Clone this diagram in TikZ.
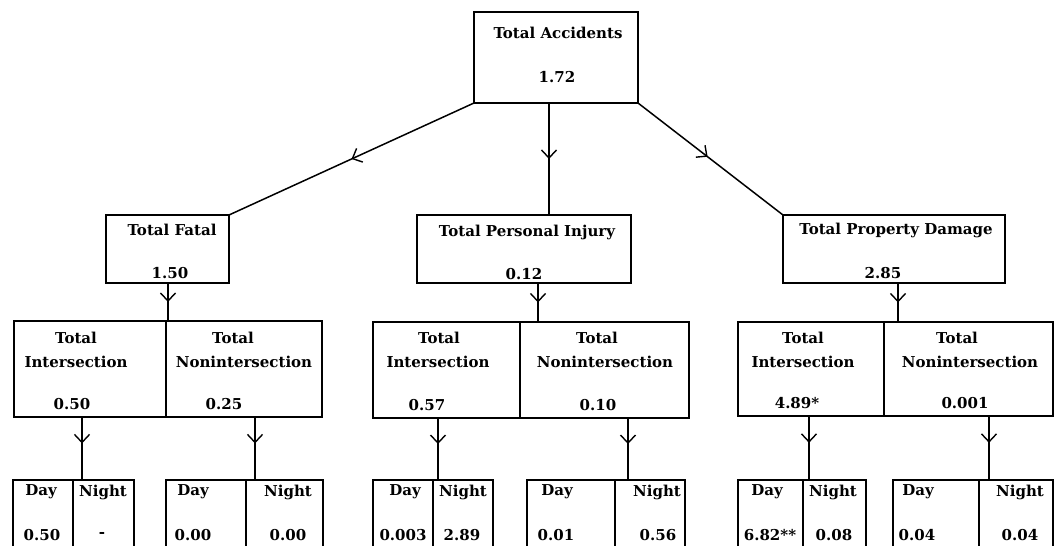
\documentclass[tikz,border=0pt]{standalone}
\usepackage{fontspec}
\setmainfont{DejaVu Serif}
\usetikzlibrary{arrows.meta,decorations.markings}
\tikzset{
  box/.style={draw, line width=1.8pt, inner sep=0pt, outer sep=0pt, anchor=north west},
  txt/.style={inner sep=0pt, font=\fontsize{15}{17}\selectfont\bfseries},
  conn/.style={line width=1.5pt, postaction={decorate},
    decoration={markings, mark=at position #1 with {\arrow{Straight Barb[length=8pt,width=15pt,line width=1.4pt]}}}},
  conn/.default=0.5
}
\newcommand{\bx}[5]{\node[box, minimum width=#4-#2, minimum height=#5-#3] (#1) at (#2,#3) {};}
\begin{document}
\begin{tikzpicture}[x=1pt,y=-1pt]
\useasboundingbox (0,0) rectangle (1055,546);
\clip (0,0) rectangle (1055,546);
% boxes
\bx{top}{474}{12}{638}{103}
\bx{fatal}{106}{215}{229}{283}
\bx{pinj}{417}{215}{631}{283}
\bx{pdam}{783}{215}{1005}{283}
\bx{fi}{14}{321}{166}{417}
\bx{fn}{166}{321}{322}{417}
\bx{pii}{373}{322}{520}{418}
\bx{pin}{520}{322}{689}{418}
\bx{pdi}{738}{322}{884}{416}
\bx{pdn}{884}{322}{1053}{416}
\bx{fid}{13}{480}{73}{560}
\bx{fin}{73}{480}{134}{560}
\bx{fnd}{166}{480}{246}{560}
\bx{fnn}{246}{480}{323}{560}
\bx{piid}{373}{480}{433}{560}
\bx{piin}{433}{480}{493}{560}
\bx{pind}{527}{480}{615}{560}
\bx{pinn}{615}{480}{685}{560}
\bx{pdid}{738}{480}{803}{560}
\bx{pdin}{803}{480}{866}{560}
\bx{pdnd}{893}{480}{979}{560}
\bx{pdnn}{979}{480}{1053}{560}
% connector x positions
\coordinate (xa) at (549,0);
\coordinate (xb) at (168,0);
\coordinate (xc) at (538,0);
\coordinate (xd) at (898,0);
\coordinate (xe) at (82,0);
\coordinate (xf) at (255,0);
\coordinate (xg) at (438,0);
\coordinate (xh) at (628,0);
\coordinate (xi) at (809,0);
\coordinate (xj) at (989,0);
% connectors
\draw[conn] (top.south west) -- (fatal.north east);
\draw[conn] (top.south -| xa) -- (pinj.north -| xa);
\draw[conn=0.48] (top.south east) -- (pdam.north west);
\draw[conn] (fatal.south -| xb) -- (fi.north -| xb);
\draw[conn] (pinj.south -| xc) -- (pii.north -| xc);
\draw[conn] (pdam.south -| xd) -- (pdi.north -| xd);
\draw[conn=0.42] (fi.south -| xe) -- (fid.north -| xe);
\draw[conn=0.42] (fn.south -| xf) -- (fnd.north -| xf);
\draw[conn=0.42] (pii.south -| xg) -- (piid.north -| xg);
\draw[conn=0.42] (pin.south -| xh) -- (pind.north -| xh);
\draw[conn=0.42] (pdi.south -| xi) -- (pdid.north -| xi);
\draw[conn=0.42] (pdn.south -| xj) -- (pdnd.north -| xj);
% texts
\node[txt] (t1) at (558,33) {Total Accidents};
\node[txt] (t2) at (557,77) {1.72};
\node[txt] (t3) at (172,230) {Total Fatal};
\node[txt] (t4) at (170,273) {1.50};
\node[txt] (t5) at (527,232) {Total Personal Injury};
\node[txt] (t6) at (524,274) {0.12};
\node[txt] (t7) at (896,230) {Total Property Damage};
\node[txt] (t8) at (883,273) {2.85};
\node[txt] (a1) at (76,338) {Total};
\node[txt] (a2) at (76,362) {Intersection};
\node[txt] (a3) at (72,404) {0.50};
\node[txt] (a4) at (233,338) {Total};
\node[txt] (a5) at (244,362) {Nonintersection};
\node[txt] (a6) at (224,404) {0.25};
\node[txt] (b1) at (439,338) {Total};
\node[txt] (b2) at (438,362) {Intersection};
\node[txt] (b3) at (427,405) {0.57};
\node[txt] (b4) at (597,338) {Total};
\node[txt] (b5) at (605,362) {Nonintersection};
\node[txt] (b6) at (598,405) {0.10};
\node[txt] (c1) at (803,338) {Total};
\node[txt] (c2) at (803,362) {Intersection};
\node[txt] (c3) at (797,403) {4.89*};
\node[txt] (c4) at (957,338) {Total};
\node[txt] (c5) at (970,362) {Nonintersection};
\node[txt] (c6) at (965,403) {0.001};
% bottom
\node[txt] (d1) at (41,492) {Day};
\node[txt] (d2) at (103,492) {Night};
\node[txt] (d3) at (42,535) {0.50};
\node[txt] (d4) at (102,535) {-};
\node[txt] (d5) at (193,492) {Day};
\node[txt] (d6) at (288,492) {Night};
\node[txt] (d7) at (193,535) {0.00};
\node[txt] (d8) at (288,535) {0.00};
\node[txt] (e1) at (405,492) {Day};
\node[txt] (e2) at (463,492) {Night};
\node[txt] (e3) at (403,535) {0.003};
\node[txt] (e4) at (462,535) {2.89};
\node[txt] (e5) at (557,492) {Day};
\node[txt] (e6) at (657,492) {Night};
\node[txt] (e7) at (556,535) {0.01};
\node[txt] (e8) at (658,535) {0.56};
\node[txt] (f1) at (767,492) {Day};
\node[txt] (f2) at (833,492) {Night};
\node[txt] (f3) at (770,535) {6.82**};
\node[txt] (f4) at (834,535) {0.08};
\node[txt] (f5) at (918,492) {Day};
\node[txt] (f6) at (1020,492) {Night};
\node[txt] (f7) at (917,535) {0.04};
\node[txt] (f8) at (1020,535) {0.04};
\end{tikzpicture}
\end{document}
